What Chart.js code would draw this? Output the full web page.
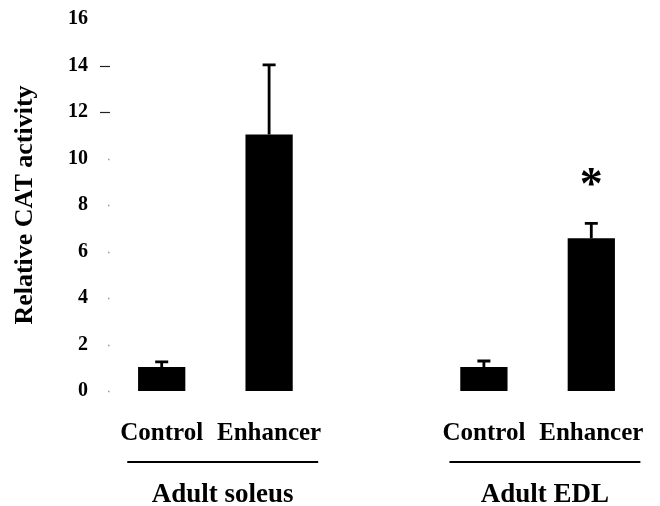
<!DOCTYPE html>
<html>
<head>
<meta charset="utf-8">
<script src="https://cdn.jsdelivr.net/npm/chart.js@4/dist/chart.umd.min.js"></script>
<style>
  html, body { margin: 0; padding: 0; background: #ffffff; }
  #wrap { width: 660px; height: 506px; }
</style>
</head>
<body>
<div id="wrap"><canvas id="cat" width="660" height="506"></canvas></div>
<script>
// Relative CAT activity, control vs enhancer construct, in two adult muscles.
const categories = ['Control', 'Enhancer', '', 'Control', 'Enhancer'];
const activity   = [1.03, 11.03, null, 1.03, 6.57];
const errorUp    = [0.22, 3.0,   null, 0.26, 0.64];
const marks      = ['', '', '', '', '*'];
const groupNames = ['Adult soleus', 'Adult EDL'];
const groupFirst = [0, 3];
const groupLast  = [1, 4];
const yTicks     = [0, 2, 4, 6, 8, 10, 12, 14, 16];

const SERIF = '"Liberation Serif", "Times New Roman", serif';

// Upper error bars, significance marks, small y tick marks and group brackets.
const decorations = {
  id: 'decorations',
  afterDatasetsDraw(chart) {
    const ctx = chart.ctx;
    const y = chart.scales.y;
    const meta = chart.getDatasetMeta(0);
    ctx.save();
    ctx.strokeStyle = '#000';
    ctx.fillStyle = '#000';
    ctx.lineWidth = 2.8;
    meta.data.forEach((bar, i) => {
      if (activity[i] == null) return;
      const top = y.getPixelForValue(activity[i] + errorUp[i]);
      ctx.beginPath();
      ctx.moveTo(bar.x, bar.y);
      ctx.lineTo(bar.x, top);
      ctx.moveTo(bar.x - 6.5, top);
      ctx.lineTo(bar.x + 6.5, top);
      ctx.stroke();
      if (marks[i]) {
        ctx.font = 'bold 46px ' + SERIF;
        ctx.textAlign = 'center';
        ctx.textBaseline = 'alphabetic';
        const m = ctx.measureText(marks[i]);
        // keep a gap between the glyph's lower edge and the error cap
        ctx.fillText(marks[i], bar.x, top - 11 + m.actualBoundingBoxDescent);
      }
    });
    ctx.restore();
  },
  afterDraw(chart) {
    const ctx = chart.ctx;
    const y = chart.scales.y;
    const x = chart.scales.x;
    const left = chart.chartArea.left;
    ctx.save();
    // tick marks on the value axis
    yTicks.forEach(v => {
      if (v === 16) return;
      const py = Math.round(y.getPixelForValue(v)) + 0.5;
      ctx.beginPath();
      if (v >= 12) {
        ctx.strokeStyle = '#222';
        ctx.lineWidth = 1.2;
        ctx.moveTo(left - 8, py);
        ctx.lineTo(left + 2, py);
      } else {
        ctx.strokeStyle = '#999';
        ctx.lineWidth = 1.5;
        ctx.moveTo(left, py);
        ctx.lineTo(left + 1.5, py);
      }
      ctx.stroke();
    });
    // group underline + group name below the category labels
    ctx.font = 'bold 25px ' + SERIF;
    const lineY = x.top + 71;
    groupNames.forEach((name, g) => {
      const a = groupFirst[g], b = groupLast[g];
      const wa = ctx.measureText(categories[a]).width;
      const wb = ctx.measureText(categories[b]).width;
      const x0 = x.getPixelForValue(a) - wa / 2 + 7;
      const x1 = x.getPixelForValue(b) + wb / 2 - 3;
      ctx.strokeStyle = '#000';
      ctx.lineWidth = 2.2;
      ctx.beginPath();
      ctx.moveTo(x0, lineY);
      ctx.lineTo(x1, lineY);
      ctx.stroke();
      ctx.save();
      ctx.font = 'bold 27px ' + SERIF;
      ctx.fillStyle = '#000';
      ctx.textAlign = 'center';
      ctx.textBaseline = 'alphabetic';
      ctx.fillText(name, (x0 + x1) / 2, x.top + 111);
      ctx.restore();
    });
    ctx.restore();
  }
};

new Chart(document.getElementById('cat'), {
  type: 'bar',
  data: {
    labels: categories,
    datasets: [{
      data: activity,
      backgroundColor: '#000',
      borderWidth: 0,
      barPercentage: 0.44,
      categoryPercentage: 1.0
    }]
  },
  options: {
    responsive: false,
    devicePixelRatio: 1,
    animation: false,
    layout: { padding: { top: 19, right: 15, left: 0, bottom: 0 } },
    plugins: { legend: { display: false }, tooltip: { enabled: false } },
    scales: {
      x: {
        offset: true,
        grid: { display: false, drawTicks: false },
        border: { display: false },
        ticks: {
          color: '#000',
          font: { family: SERIF, size: 25, weight: 'bold' },
          padding: 28,
          maxRotation: 0,
          autoSkip: false
        },
        afterFit(scale) {
          scale.height = 115;
          scale.paddingLeft = 0;
          scale.paddingRight = 0;
        }
      },
      y: {
        min: 0,
        max: 16,
        afterBuildTicks(scale) { scale.ticks = yTicks.map(v => ({ value: v })); },
        grid: { display: false, drawTicks: false },
        border: { display: false },
        ticks: {
          color: '#000',
          font: { family: SERIF, size: 20, weight: 'bold' },
          padding: 20
        },
        title: {
          display: true,
          text: 'Relative CAT activity',
          color: '#000',
          font: { family: SERIF, size: 26, weight: 'bold' },
          padding: { top: 10, bottom: 0 }
        },
        afterFit(scale) {
          scale.width = 108;
          scale.paddingTop = 0;
          scale.paddingBottom = 0;
        }
      }
    }
  },
  plugins: [decorations]
});
</script>
</body>
</html>
